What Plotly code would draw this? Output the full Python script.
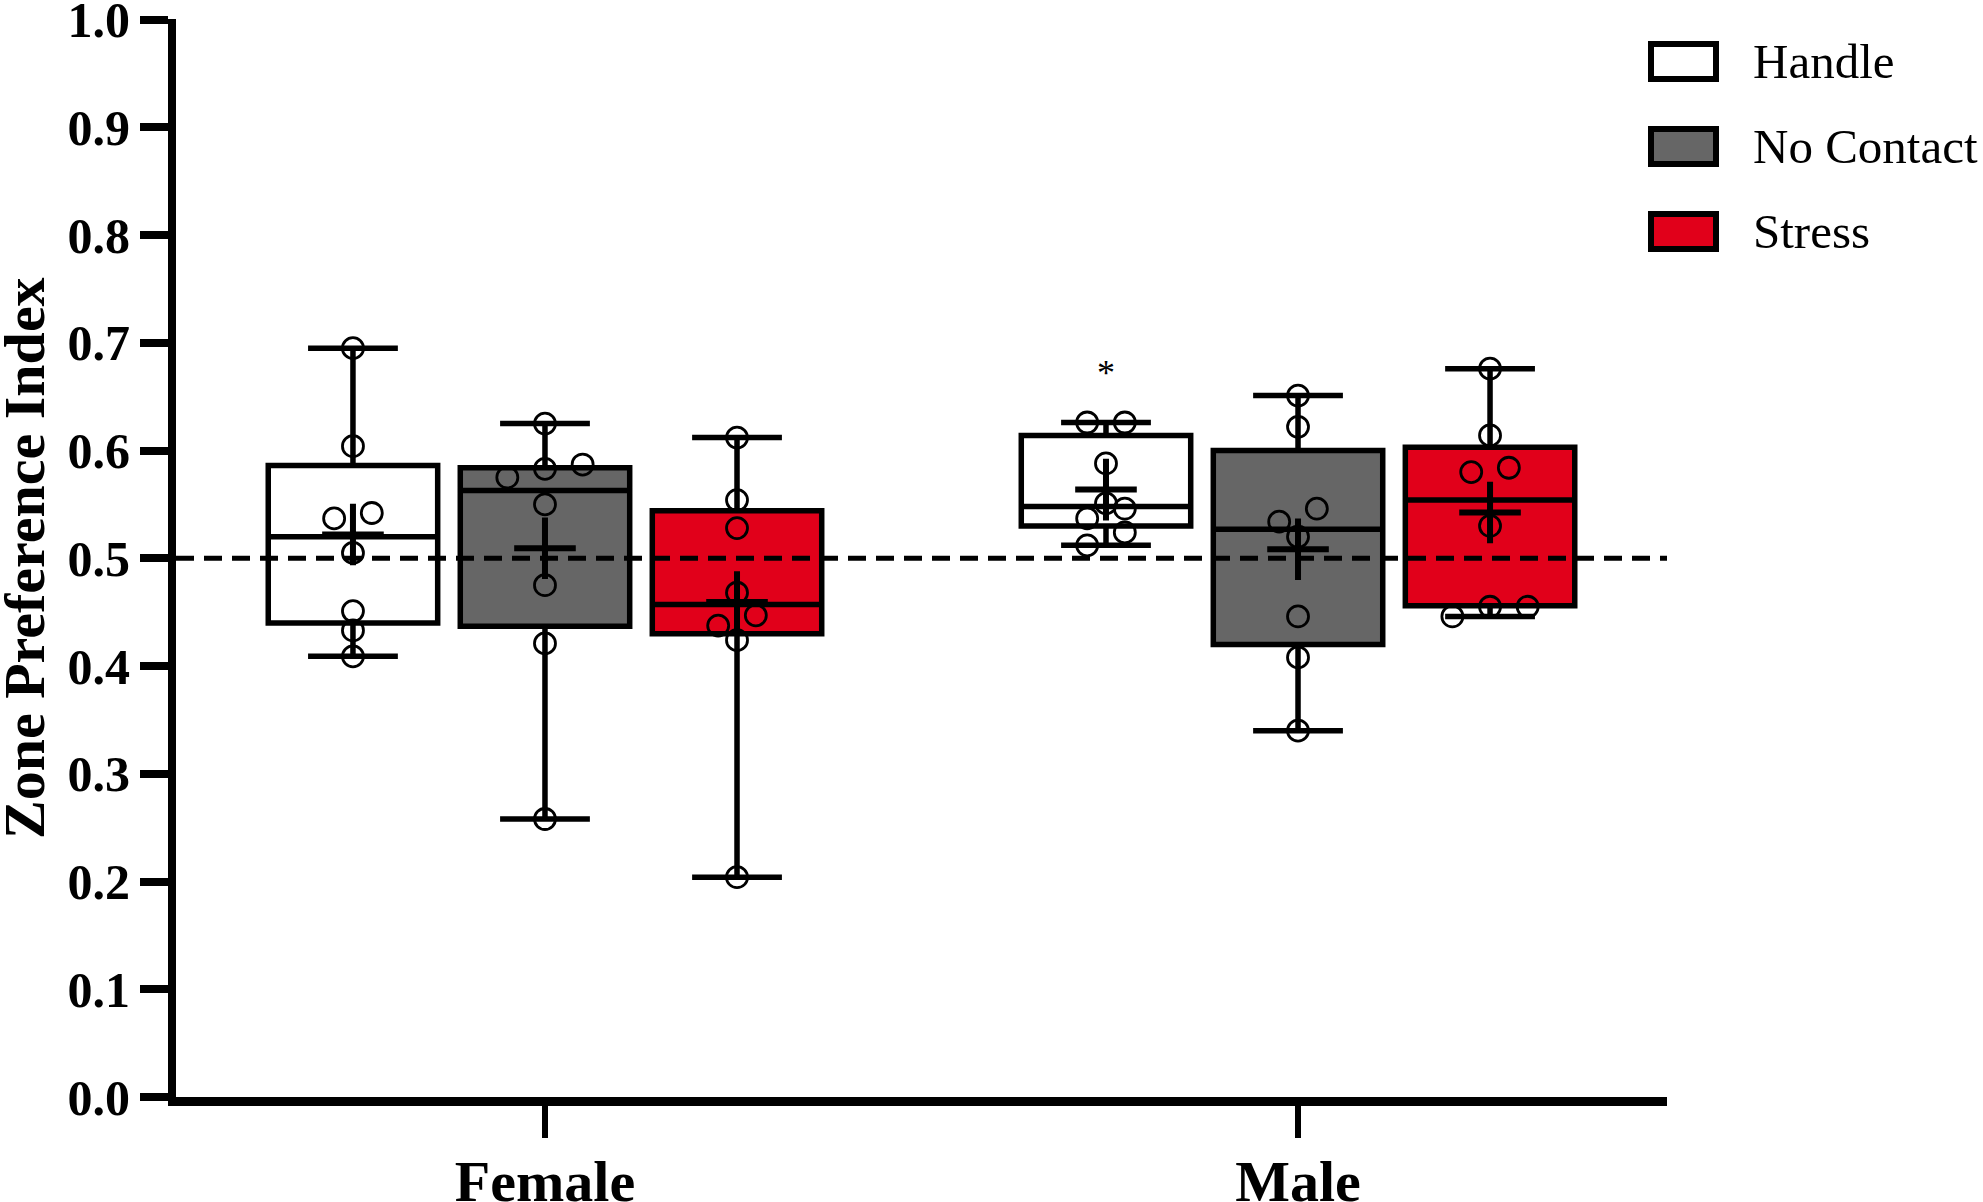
import numpy as np
import plotly.graph_objects as go

# data
groups = ["Female", "Male"]
treatments = ["Handle", "No Contact", "Stress"]

handle_q1 = [0.440, 0.530]
handle_median = [0.520, 0.548]
handle_q3 = [0.586, 0.614]
handle_female = [0.695, 0.604, 0.537, 0.542, 0.505, 0.451, 0.433, 0.409]
handle_male = [0.626, 0.626, 0.588, 0.551, 0.546, 0.537, 0.524, 0.512]

nocontact_q1 = [0.437, 0.420]
nocontact_median = [0.563, 0.527]
nocontact_q3 = [0.584, 0.600]
nocontact_female = [0.625, 0.587, 0.575, 0.583, 0.550, 0.475, 0.421, 0.258]
nocontact_male = [0.651, 0.622, 0.546, 0.534, 0.520, 0.446, 0.408, 0.340]

stress_q1 = [0.430, 0.456]
stress_median = [0.457, 0.554]
stress_q3 = [0.544, 0.603]
stress_female = [0.612, 0.554, 0.528, 0.468, 0.447, 0.4375, 0.424, 0.204]
stress_male = [0.676, 0.614, 0.584, 0.580, 0.530, 0.455, 0.455, 0.446]

y_ticks = [0.0, 0.1, 0.2, 0.3, 0.4, 0.5, 0.6, 0.7, 0.8, 0.9, 1.0]
y_title = "Zone Preference Index"
chance_level = 0.5
significance = {"group": "Male", "treatment": "Handle", "label": "*", "y": 0.672}

# styling
FONT = "Liberation Serif, Times New Roman, serif"
fills = {"Handle": "#ffffff", "No Contact": "#666666", "Stress": "#e1001a"}
offsets = {"Handle": -0.255, "No Contact": 0.0, "Stress": 0.255}
BOX_W = 0.225
SWARM_STEP = 0.05
SWARM_TOL = 0.013

W, H = 1983, 1202
PLOT_X0, PLOT_X1, PLOT_Y0, PLOT_Y1 = 176, 1667, 19, 1097   # plot area in px
L, T, R, B = PLOT_X0, PLOT_Y0, W - PLOT_X1, H - PLOT_Y1


def swarm(values, centre):
    # rows of near-equal values are spread symmetrically around the box centre
    order = np.argsort(values)
    xs = np.zeros(len(values))
    row = []
    for idx in list(order) + [None]:
        if idx is not None and row and values[idx] - values[row[0]] < SWARM_TOL:
            row.append(idx)
            continue
        n = len(row)
        for k, j in enumerate(row):
            xs[j] = centre + (k - (n - 1) / 2) * SWARM_STEP
        row = [idx] if idx is not None else []
    return xs


def px_x(p):
    return (p - PLOT_X0) / (PLOT_X1 - PLOT_X0)


def px_y(p):
    return (PLOT_Y1 - p) / (PLOT_Y1 - PLOT_Y0)


series = {
    "Handle": (handle_q1, handle_median, handle_q3, [handle_female, handle_male]),
    "No Contact": (nocontact_q1, nocontact_median, nocontact_q3, [nocontact_female, nocontact_male]),
    "Stress": (stress_q1, stress_median, stress_q3, [stress_female, stress_male]),
}

fig = go.Figure()

for name in treatments:
    q1, med, q3, pts = series[name]
    pos = [g + offsets[name] for g in range(len(groups))]
    fig.add_trace(go.Box(
        x=pos, q1=q1, median=med, q3=q3,
        lowerfence=[min(p) for p in pts], upperfence=[max(p) for p in pts],
        width=BOX_W, whiskerwidth=0.53, boxpoints=False,
        fillcolor=fills[name], line=dict(color="black", width=5.5),
        name=name, showlegend=False, hoverinfo="skip",
    ))

for name in treatments:
    q1, med, q3, pts = series[name]
    for g, vals in enumerate(pts):
        centre = g + offsets[name]
        fig.add_trace(go.Scatter(
            x=swarm(np.array(vals), centre), y=vals, mode="markers",
            marker=dict(symbol="circle-open", size=21, color="black", line=dict(width=2.8)),
            showlegend=False, hoverinfo="skip",
        ))
    fig.add_trace(go.Scatter(
        x=[g + offsets[name] for g in range(len(groups))],
        y=[float(np.mean(v)) for v in pts], mode="markers",
        marker=dict(symbol="cross-thin", size=44, color="black", line=dict(width=6, color="black")),
        showlegend=False, hoverinfo="skip",
    ))

fig.add_hline(y=chance_level, line=dict(color="black", width=5, dash="18px,10px"))

fig.add_annotation(
    x=groups.index(significance["group"]) + offsets[significance["treatment"]],
    y=significance["y"], text=significance["label"], showarrow=False,
    font=dict(family=FONT, size=36, color="black"),
)

# y title as a rotated annotation so it sits where the original has it
fig.add_annotation(
    xref="paper", yref="paper", x=px_x(24), y=0.5, text=y_title, textangle=-90,
    showarrow=False, xanchor="center", yanchor="middle",
    font=dict(family=FONT, size=58, color="black", weight="bold"),
)

# hand-made legend
for i, name in enumerate(treatments):
    top = 44 + i * 85
    fig.add_shape(
        type="rect", xref="paper", yref="paper",
        x0=px_x(1651), x1=px_x(1716), y0=px_y(top + 35), y1=px_y(top),
        fillcolor=fills[name], line=dict(color="black", width=6),
    )
    fig.add_annotation(
        xref="paper", yref="paper", x=px_x(1751), y=px_y(top + 17.5),
        xanchor="left", yanchor="middle", text=name, showarrow=False,
        font=dict(family=FONT, size=49, color="black"),
    )

fig.update_layout(
    width=W, height=H,
    margin=dict(l=L, r=R, t=T, b=B, autoexpand=False),
    paper_bgcolor="white", plot_bgcolor="white",
    boxmode="overlay",
    font=dict(family=FONT, color="black"),
)
fig.update_xaxes(
    range=[-0.49, 1.49], tickvals=list(range(len(groups))), ticktext=groups,
    automargin=False, ticklabeloverflow="allow", ticklabelstandoff=-7,
    showgrid=False, zeroline=False, showline=True, linecolor="black", linewidth=9,
    ticks="outside", ticklen=32, tickwidth=6, tickcolor="black",
    tickfont=dict(family=FONT, size=58, color="black", weight="bold"),
)
fig.update_yaxes(
    range=[0, 1.0005], tickvals=y_ticks, ticktext=[f"{v:.1f}" for v in y_ticks],
    automargin=False, ticklabeloverflow="allow",
    showgrid=False, zeroline=False, showline=True, linecolor="black", linewidth=8,
    ticks="outside", ticklen=28, tickwidth=8, tickcolor="black",
    tickfont=dict(family=FONT, size=50, color="black", weight="bold"),
)

# drop the default page margin so the figure fills the window exactly
fig.write_html("out.html", config={"displayModeBar": False},
               post_script="document.body.style.margin = '0';")
